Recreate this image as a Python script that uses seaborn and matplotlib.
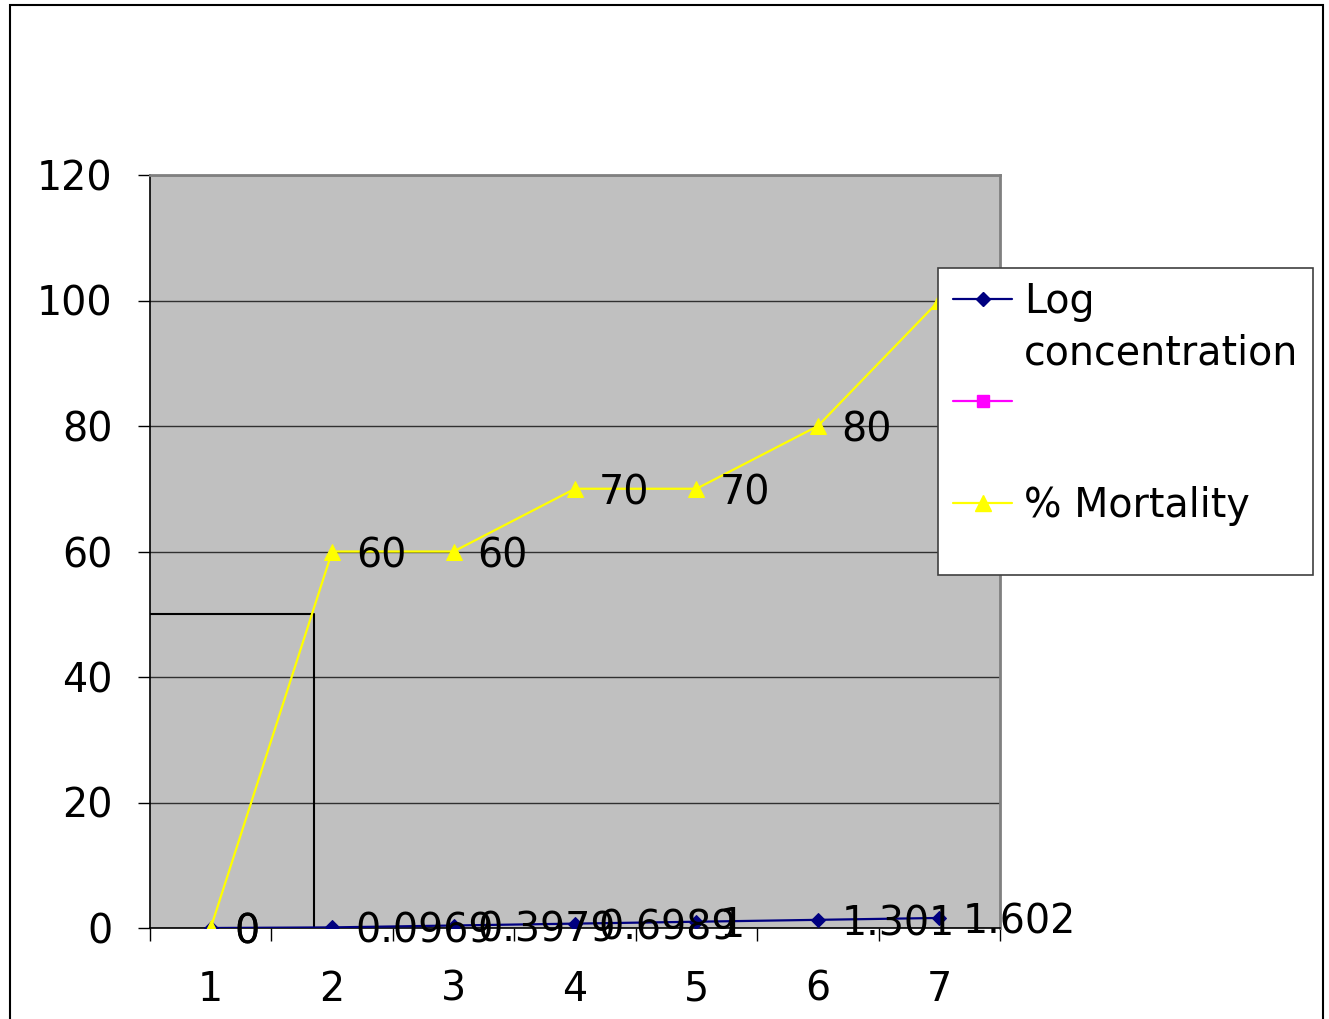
import pandas as pd
import matplotlib.pyplot as plt
import seaborn as sns
from matplotlib.lines import Line2D
from matplotlib.patches import Rectangle

# Данные
categories = [1, 2, 3, 4, 5, 6, 7]
log_conc = [0, 0.0969, 0.3979, 0.6989, 1, 1.301, 1.602]
log_labels = ["0", "0.0969", "0.3979", "0.6989", "1", "1.301", "1.602"]
mortality = [0, 60, 60, 70, 70, 80, 100]
mortality_labels = ["0", "60", "60", "70", "70", "80", "100"]
lc50_x = 1.85
lc50_y = 50

sns.set_style("white")
plt.rcParams['font.family'] = ['DejaVu Sans']
plt.rcParams['text.color'] = 'black'
plt.rcParams['xtick.color'] = 'black'
plt.rcParams['ytick.color'] = 'black'
FS = 28.5

df = pd.DataFrame({"x": categories, "log": log_conc, "mort": mortality})

fig = plt.figure(figsize=(13.29, 10.19), dpi=100)
ax = fig.add_axes([150 / 1329, 1 - 928 / 1019, 850 / 1329, 753 / 1019])
ax.set_facecolor("#C0C0C0")

# Линии серий
sns.lineplot(data=df, x="x", y="log", ax=ax, color="#000080", lw=1.6,
             marker="D", markersize=7, markeredgecolor="#000080", zorder=3)
sns.lineplot(data=df, x="x", y="mort", ax=ax, color="#FFFF00", lw=1.6,
             marker="^", markersize=11, markeredgecolor="#FFFF00", zorder=4)

# Линия LC50
ax.plot([0.48, lc50_x, lc50_x], [lc50_y, lc50_y, 0], color="black", lw=1.5, zorder=2)

# Подписи данных
for x, y, lbl in zip(categories, log_conc, log_labels):
    ax.annotate(lbl, (x, y), xytext=(17, 0), textcoords="offset points",
                ha="left", va="center_baseline", fontsize=FS, zorder=5)
for x, y, lbl in zip(categories, mortality, mortality_labels):
    ax.annotate(lbl, (x, y), xytext=(17, 0), textcoords="offset points",
                ha="left", va="center_baseline", fontsize=FS, zorder=5)

# Оси
ax.set_xlim(0.5, 7.5)
ax.set_ylim(0, 120)
ax.set_yticks(range(0, 121, 20))
ax.set_xticks(categories)
ax.set_xticks([c + 0.5 for c in [0] + categories], minor=True)
ax.grid(axis="y", color="#303030", lw=1)
ax.set_axisbelow(True)
ax.tick_params(axis="y", direction="out", length=9, width=1, pad=18, labelsize=FS, left=True)
ax.tick_params(axis="x", which="major", length=0, pad=30, labelsize=FS)
ax.tick_params(axis="x", which="minor", direction="out", length=9, width=1, bottom=True)
ax.set_xlabel("")
ax.set_ylabel("")
for side in ["top", "right"]:
    ax.spines[side].set_color("#808080")
    ax.spines[side].set_linewidth(2)
for side in ["left", "bottom"]:
    ax.spines[side].set_color("black")
    ax.spines[side].set_linewidth(1.2)

# Легенда
fig.patches.append(Rectangle((938 / 1329, 1 - 575 / 1019), 375 / 1329, 307 / 1019,
                             transform=fig.transFigure, facecolor="white",
                             edgecolor="#404040", lw=1.2, zorder=4))
handles = [
    Line2D([], [], color="#000080", marker="D", markersize=7, lw=1.6),
    Line2D([], [], color="none"),
    Line2D([], [], color="#FF00FF", marker="s", markersize=9, lw=1.6),
    Line2D([], [], color="none"),
    Line2D([], [], color="#FFFF00", marker="^", markersize=11, lw=1.6),
]
labels = ["Log", "concentration", " ", " ", "% Mortality"]
leg = fig.legend(handles, labels, loc="upper left", bbox_to_anchor=(953 / 1329, 1 - 282 / 1019),
                 bbox_transform=fig.transFigure, frameon=False, fontsize=FS,
                 handlelength=1.5, handletextpad=0.3, borderpad=0, borderaxespad=0,
                 labelspacing=0.28)
leg.set_zorder(6)

# Рамка диаграммы
fig.patches.append(Rectangle((10 / 1329, -0.02), 1313 / 1329, 1.02 - 5 / 1019,
                             transform=fig.transFigure, fill=False,
                             edgecolor="black", lw=1.5, zorder=7))

plt.savefig("out.png", dpi=100)
plt.close()
